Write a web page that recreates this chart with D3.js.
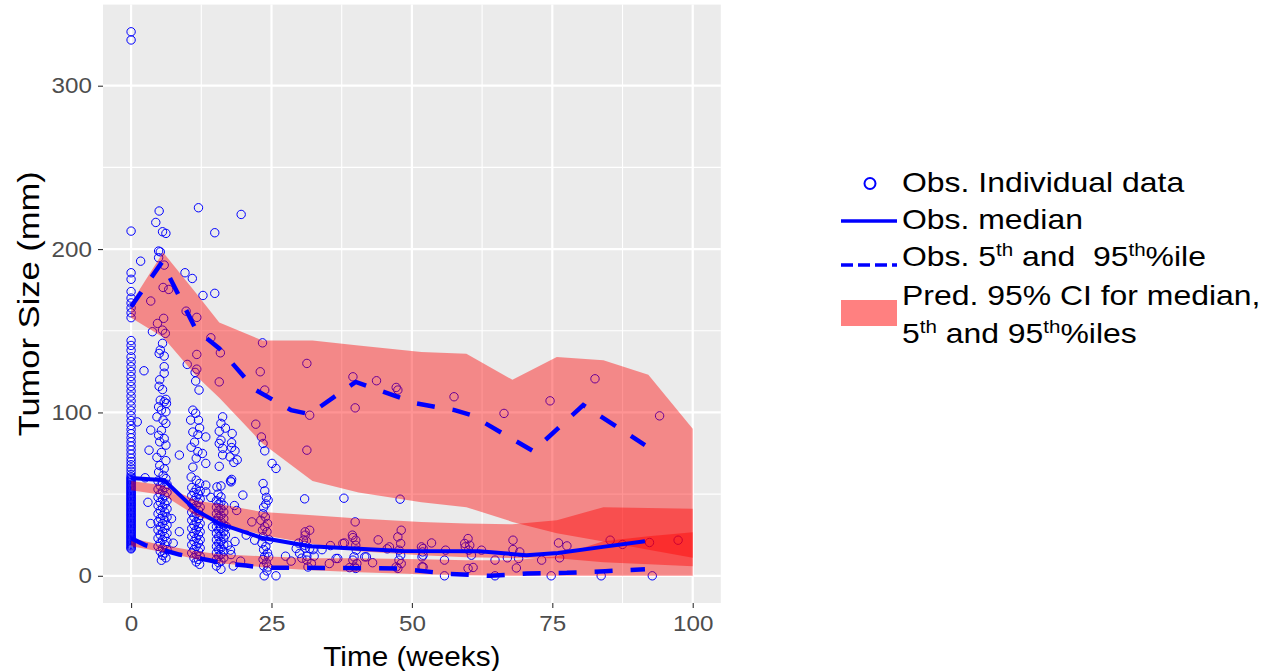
<!DOCTYPE html>
<html><head><meta charset="utf-8">
<script src="https://cdn.jsdelivr.net/npm/d3@7"></script>
<style>
body{margin:0;background:#fff}
svg{display:block}
text{font-family:"Liberation Sans",Arial,Helvetica,sans-serif}
</style>
</head><body>
<svg id="chart" width="1265" height="671"></svg>
<script>
// ---------- axis ticks ----------
const tickX = [0, 25, 50, 75, 100];
const tickY = [0, 100, 200, 300];
const minorX = [12.5, 37.5, 62.5, 87.5];
const minorY = [50, 150, 250];

// ---------- predicted 95% CI ribbons ----------
const ribbonWeeks = [0, 5.7, 11.7, 15.7, 23.4, 32.3, 40.5, 51.7, 59.7, 67.9, 75.8, 84.1, 92.1, 100];
const p95Hi = [167, 198, 172.5, 155, 144, 144, 141, 137, 136, 120, 134, 132, 123, 90];
const p95Lo = [158, 146, 122, 109, 81, 58, 51, 45, 42, 33, 26, 21, 16, 11];
const p50Hi = [58, 55.5, 46, 44, 39, 37, 35, 33, 32, 31.5, 34, 42, 41.5, 41];
const p50Lo = [52.4, 49.4, 36.5, 32.2, 24.9, 19.4, 15.1, 12.6, 11.4, 10.8, 10.8, 8.3, 7.1, 5.9];
const p05Hi = [23, 18.7, 15.1, 13.2, 12, 10.8, 10.8, 10.2, 9.5, 9.5, 12, 21.2, 24.2, 26.7];
const p05Lo = [18.1, 14.5, 10.2, 7.7, 5.3, 3.4, 2.2, 1.0, 0.4, 0, 0, 0, 0, 0];

// ---------- observed percentile lines ----------
const medWeeks = [0, 5.9, 11.5, 15.7, 23.2, 31.8, 48.3, 62, 70.4, 76, 84, 91.5];
const medObs   = [59.8, 58.5, 40.2, 32, 23.3, 18.1, 15.2, 15, 12.6, 14, 17.7, 21.2];
const q05Weeks = [0, 2.5, 8.6, 13.9, 16.5, 20.5, 23.4, 35.3, 48, 50.5, 56.7, 63.9, 70.5, 77.6, 84.4, 91.5];
const q05Obs   = [23, 18.8, 13, 9.5, 7.5, 6.3, 5, 4.8, 4.5, 3.4, 1.2, 0, 1.4, 1.8, 2.8, 4];
const q95Weeks = [0, 5.5, 11.6, 15.7, 22.2, 28.5, 31.8, 40, 50.8, 57.6, 60.6, 71.6, 80.5, 91.5];
const q95Obs   = [164.7, 192, 150.4, 139.2, 113.7, 101.4, 99, 118.7, 105.5, 101.4, 98.3, 76.3, 104.5, 80];

// ---------- observed individual data ----------
const obsWeek0 = [333, 328, 211, 185.5, 181.5, 174, 170, 167, 164, 161, 158, 144, 141, 138, 134, 131, 128, 125, 122, 119, 116, 113, 110, 107, 104, 101, 98, 95, 92, 89.5, 87, 84.5, 82, 79.5, 77, 74.5, 72, 70, 68, 66, 64, 62, 60.5, 59, 57.5, 56, 54.5, 53, 51.5, 50, 48.5, 47, 45.5, 44, 42.5, 41, 39.5, 38, 36.5, 35, 33.5, 32, 30.5, 29, 27.5, 26, 24.5, 23, 21.5, 20, 18.5, 17,
  59.75, 58.25, 56.75, 55.25, 53.75, 52.25, 50.75, 49.25, 47.75, 46.25, 44.75, 43.25, 41.75, 40.25, 38.75, 37.25, 35.75, 34.25, 32.75, 31.25, 29.75, 28.25, 26.75, 25.25, 23.75, 22.25, 20.75, 19.25, 17.75, 16.5];

const obsWeeks1to9 = [[1.7,192.6],[3.5,168.2],[2.3,125.5],[1.1,94.2],[3.2,76.9],[3.5,89.2],[3.5,32],[8.6,73.9],[8.6,27],[2.5,60],[3,45],
[5.0,223.3],[4.4,216.3],[5.6,210.6],[6.2,209.6],[4.9,198.8],[5.2,198.3],[4.9,194.7],[5.9,190.2],[5.7,176.5],[6.7,175.3],[5.8,157.6],[4.7,154.5],[5.6,150.4],[3.8,149.4],[6.1,148.4],[5.6,142.3],[5.2,138.2],[5.0,136.1],[5.9,134.5],[5.9,128],[5.9,124],[5.1,120],[5.0,116],[5.6,114],[6.2,108],[5.2,107.5],[5.9,106.5],[6.3,105.5],[4.9,103.4],[5.4,101.4],[6.2,100.4],[4.6,97.3],[5.7,95.3],[6.2,93.3],[5.4,89],[4.9,86],[5.9,84],[5.1,82],[6.2,80],[5.4,75.5],[4.6,72.5],[6.2,70.5],[5.1,67.5],[5.9,65.5],[4.9,63.5],[5.7,61.5],[6.2,59.5],
[4.8,58],[5.6,57],[6.4,56],[5.2,55],[6.0,54],[4.8,53],[5.6,52],[6.4,51],[5.2,50],[6.0,49],[4.8,48],[5.6,47],[6.4,46],[5.2,45],[6.0,44],[4.8,43],[5.6,42],[6.4,41],[5.2,40],[6.0,39],[4.8,38],[5.6,37],[6.4,36],[5.2,35],[6.0,34],[4.8,33],[5.6,32],[6.4,31],[5.2,30],[6.0,29],[4.8,28],[5.6,27],[6.4,26],[5.2,25],[6.0,24],[4.8,23],[5.6,22],[6.4,21],[5.2,20],[6.0,19],[4.8,18],[5.6,17],[6.4,16],[5.2,15],[6.0,14],[5.6,12.5],[6.2,11],[5.4,9.5],[7.5,20],[7.2,35]];

const obsWeeks10to14 = [[9.6,185.5],[10.9,182],[12.0,225.3],[12.8,171.6],[9.8,162],[11.7,158.2],[11.7,135.5],[10,129.4],[11.7,126.5],[11.4,124.5],[11.5,119.2],[12.1,113.7],[11,101.4],[11.5,99.5],[10.6,95.3],[12,95.3],[12.2,90.5],[11,88],[11.9,86.5],[13.3,85],[11.3,81.8],[10.7,78.7],[11.9,76],[12.7,74.9],[11.6,72],[11,66.5],[13.3,68.8],[10.7,60.5],[11.6,58.5],[12.2,56.5],[13.3,55.5],[13.3,51.4],
[10.8,54],[11.6,53],[12.3,52],[11.2,51],[12.0,50],[10.8,49],[11.6,48],[12.3,47],[11.2,46],[12.0,45],[10.8,44],[11.6,43],[12.3,42],[11.2,41],[12.0,40],[10.8,39],[11.6,38],[12.3,37],[11.2,36],[12.0,35],[10.8,34],[11.6,33],[12.3,32],[11.2,31],[12.0,30],[10.8,29],[11.6,28],[12.3,27],[11.2,26],[12.0,25],[10.8,24],[11.6,23],[12.3,22],[11.2,21],[12.0,20],[10.8,19],[11.6,18],[12.3,17],[11.2,16],[12.0,15],[10.8,14],[11.6,13],[12.3,12],[11.2,11],[12.0,10],[11.6,8.5],[12.2,7]];

const obsWeeks14to21 = [[14.9,210],[14.9,172.9],[19.6,221.2],[14.2,145.7],[15.9,136.5],[15.7,118.7],[16.3,97.3],[16,93.3],[16.8,90.4],[15.7,88.5],[18,87.1],[16,83],[15.7,81],[17.9,81.5],[17.9,78.5],[18.5,76.5],[16.3,78],[16.3,74],[18.9,71],[17.6,72.8],[18.3,69.4],[15.7,67],[17.9,59],[16,55],[17.8,57.5],[15.3,54.4],[16,48.3],[17.7,58.1],[19.9,49.4],[15.5,50],[14.2,48],[18.4,43],[18.8,40],
[15.2,46],[16.0,45],[15.6,44],[16.5,43],[15.2,42],[16.0,41],[15.6,40],[16.5,39],[15.2,38],[16.0,37],[15.6,36],[16.5,35],[15.2,34],[16.0,33],[15.6,32],[16.5,31],[15.2,30],[16.0,29],[15.6,28],[16.5,27],[15.2,26],[16.0,25],[15.6,24],[16.5,23],[15.2,22],[16.0,21],[15.6,20],[16.5,19],[15.2,18],[16.0,17],[15.6,16],[16.5,15],[15.2,14],[16.0,13],[15.6,12],[16.5,11],[15.2,10],[16.0,9],[15.6,8],[15.2,6],[16,4],
[17.7,15.7],[17.2,18.7],[17.8,13],[16.8,25],[18.5,21],[20.5,24.9],[19.5,9],[18.2,6],[17,30],[14.5,30]];

const obsWeeks21to27 = [[23.4,142.6],[23,124.9],[23.8,113.7],[22.2,92.8],[23.2,85],[23.5,81],[23.8,76.5],[25.1,68.8],[25.8,65.7],[23.5,56.5],[23.8,52],[24.1,48],[24.4,46.3],[24,44],[23.6,42],[23.5,38],[23.1,34],[23.8,30],[24.2,27],[23.5,24],[24.6,22],[23.3,20],[24,18],[23.6,16],[24.3,14],[23.8,12],[24.5,11.6],[23.5,10],[24.1,8],[23.6,6],[24.4,5.4],[23.7,0],[25.8,0],[21.5,33],[22,21.8],[23.9,36],[24.3,32],[23.4,28],[24.2,3]];

const obsWeeksLate = [[31.3,130],[31.3,76.9],[39.5,121.8],[39.9,102.8],[43.7,119.4],[47.2,115.3],[47.5,113.7],[31.8,98.3],[30.9,47.1],[37.9,47.5],[47.9,46.9],[39.9,33],[31.8,27.9],[39.4,24.9],[39.5,23.4],[48.1,27.9],[47.5,23.8],[48,19.8],[53.5,20.1],[46,17.7],[38,20.1],[31.2,21.4],[30.9,18.7],[31.8,16.7],[29.4,16.7],[30,13.7],[32.6,12],[35.3,7.5],[36.5,10.6],[39.5,9.6],[39.8,5.4],[41.6,11.6],[31.5,5.4],[32.1,7.5],[38.9,5],[47.2,5.4],[48.1,7.5],[52,5.4],[52,12.6],[52,16.7],[55.8,9.6],[55.8,0],[56,15.7],[60,22.8],[59.4,19.8],[60.3,18.7],[62.4,15.7],[64.8,9.6],[60,4.5],[60.9,5.1],[64.8,0],[57.5,109.6],[66.4,99.4],[74.6,107.1],[82.6,120.6],[94.1,97.9],[68,21.8],[68,16.1],[69.2,14.6],[67,11],[69,10.6],[68.6,4.8],[73.1,9.6],[76.1,20.1],[77.6,18.3],[76.3,11],[74.8,0],[83.7,0],[85.3,21.8],[87.5,19.2],[92.3,20.4],[97.4,21.8],[92.8,0],[40,21.8],[40,18.7],[40.1,15.7],[39.7,11.6],[40.2,7.5],[40,4.5],[37.7,19.8],[41.9,11.6],[47.7,15.7],[48,12.6],[47.7,9.6],[47.5,4.5],[51.7,17.7],[51.9,14.6],[51.8,11.6],[51.8,5.5],[36.8,10.6],[59.5,17.7],[60.1,15.7],[60.6,12.6],[31,26.9],[31,24.9],[30.7,21.8],[29.8,20],[32.4,16],[31,17],[31.3,12],[30.4,10.8],[31.3,9.6],[45.6,16.5],[27.5,12],[28.5,9],[34,16],[35.5,18.5],[44,22],[43,8]];

// ---------- legend labels ----------
const legendItems = ["Obs. Individual data", "Obs. median", "Obs. 5th and  95th%ile", "Pred. 95% CI for median,", "5th and 95th%iles"];

// =====================================================
const svg = d3.select("#chart");
const x = d3.scaleLinear().domain([-5, 105]).range([103, 720.8]);
const y = d3.scaleLinear().domain([-16.65, 349.65]).range([603, 4.6]);
function stretch(sel, k) {
  sel.each(function(){
    const L = this.getComputedTextLength();
    this.setAttribute("textLength", L * k);
    this.setAttribute("lengthAdjust", "spacingAndGlyphs");
  });
}

// panel
svg.append("rect").attr("x", x(-5)).attr("y", y(349.65))
  .attr("width", x(105) - x(-5)).attr("height", y(-16.65) - y(349.65)).attr("fill", "#EBEBEB");
const grid = svg.append("g");
grid.selectAll(".mx").data(minorX).join("line").attr("x1", d => x(d)).attr("x2", d => x(d))
  .attr("y1", y(349.65)).attr("y2", y(-16.65)).attr("stroke", "#fff").attr("stroke-width", 1.1);
grid.selectAll(".my").data(minorY).join("line").attr("y1", d => y(d)).attr("y2", d => y(d))
  .attr("x1", x(-5)).attr("x2", x(105)).attr("stroke", "#fff").attr("stroke-width", 1.1);
grid.selectAll(".Mx").data(tickX).join("line").attr("x1", d => x(d)).attr("x2", d => x(d))
  .attr("y1", y(349.65)).attr("y2", y(-16.65)).attr("stroke", "#fff").attr("stroke-width", 2.2);
grid.selectAll(".My").data(tickY).join("line").attr("y1", d => y(d)).attr("y2", d => y(d))
  .attr("x1", x(-5)).attr("x2", x(105)).attr("stroke", "#fff").attr("stroke-width", 2.2);

// points
const pts = obsWeek0.map(v => [0, v])
  .concat(obsWeeks1to9, obsWeeks10to14, obsWeeks14to21, obsWeeks21to27, obsWeeksLate);
svg.append("g").selectAll("circle").data(pts).join("circle")
  .attr("cx", d => x(d[0])).attr("cy", d => y(d[1])).attr("r", 4.2)
  .attr("fill", "none").attr("stroke", "#0000FF").attr("stroke-width", 1);

// ribbons
const area = d3.area().x(d => x(d.t)).y0(d => y(d.lo)).y1(d => y(d.hi));
const bands = [[p95Lo, p95Hi], [p50Lo, p50Hi], [p05Lo, p05Hi]];
svg.append("g").selectAll("path").data(bands).join("path")
  .attr("d", b => area(ribbonWeeks.map((t, i) => ({t, lo: b[0][i], hi: b[1][i]}))))
  .attr("fill", "#FF0000").attr("fill-opacity", 0.42);

// observed lines
const line = d3.line().x(d => x(d[0])).y(d => y(d[1]));
const lg = svg.append("g").attr("fill", "none").attr("stroke", "#0000FF");
lg.append("path").attr("d", line(medWeeks.map((t, i) => [t, medObs[i]]))).attr("stroke-width", 4);
lg.append("path").attr("d", line(q05Weeks.map((t, i) => [t, q05Obs[i]]))).attr("stroke-width", 4.5).attr("stroke-dasharray", "18,18");
lg.append("path").attr("d", line(q95Weeks.map((t, i) => [t, q95Obs[i]]))).attr("stroke-width", 4.5).attr("stroke-dasharray", "18,18");

// axes
const gx = svg.append("g").attr("transform", `translate(0,${y(-16.65)})`)
  .call(d3.axisBottom(x).tickValues(tickX).tickSize(5).tickPadding(7).tickFormat(d3.format("d")));
const gy = svg.append("g").attr("transform", `translate(${x(-5)},0)`)
  .call(d3.axisLeft(y).tickValues(tickY).tickSize(5).tickPadding(6).tickFormat(d3.format("d")));
[gx, gy].forEach(g => {
  g.select(".domain").remove();
  g.selectAll("line").attr("stroke", "#333333").attr("stroke-width", 1.1);
  g.selectAll("text").attr("fill", "#4D4D4D").attr("font-size", 22).attr("font-family", null);
  stretch(g.selectAll("text"), 1.1);
});

// axis titles
const xt = svg.append("text").attr("x", (x(-5) + x(105)) / 2).attr("y", 666)
  .attr("text-anchor", "middle").attr("font-size", 27).attr("fill", "#000").text("Time (weeks)");
stretch(xt, 1.1);
const yt = svg.append("text").attr("transform", `translate(39,${(y(-16.65) + y(349.65)) / 2}) rotate(-90)`)
  .attr("text-anchor", "middle").attr("font-size", 30).attr("fill", "#000").text("Tumor Size (mm)");
stretch(yt, 1.15);

// legend
const leg = svg.append("g");
leg.append("circle").attr("cx", 870).attr("cy", 183.5).attr("r", 5.5)
  .attr("fill", "none").attr("stroke", "#0000FF").attr("stroke-width", 2);
leg.append("line").attr("x1", 841).attr("x2", 897).attr("y1", 221).attr("y2", 221)
  .attr("stroke", "#0000FF").attr("stroke-width", 3.5);
leg.append("line").attr("x1", 841).attr("x2", 897).attr("y1", 265).attr("y2", 265)
  .attr("stroke", "#0000FF").attr("stroke-width", 3.5).attr("stroke-dasharray", "12,5");
leg.append("rect").attr("x", 841).attr("y", 300).attr("width", 56).attr("height", 26).attr("fill", "#FF8080");

function legText(yb, str) {
  const t = leg.append("text").attr("x", 902).attr("y", yb).attr("font-size", 28)
    .attr("fill", "#000").style("white-space", "pre");
  const parts = str.split(/(th)(?=%| and)/);
  let sup = false;
  parts.forEach(p => {
    if (p === "th") {
      t.append("tspan").attr("dy", -10).attr("font-size", 18).text("th");
      sup = true;
    } else if (p.length) {
      t.append("tspan").attr("dy", sup ? 10 : 0).text(p);
      sup = false;
    }
  });
  stretch(t, 1.14);
}
legText(191.5, legendItems[0]);
legText(228.5, legendItems[1]);
legText(265.5, legendItems[2]);
legText(305, legendItems[3]);
legText(342.5, legendItems[4]);
</script>
</body></html>
